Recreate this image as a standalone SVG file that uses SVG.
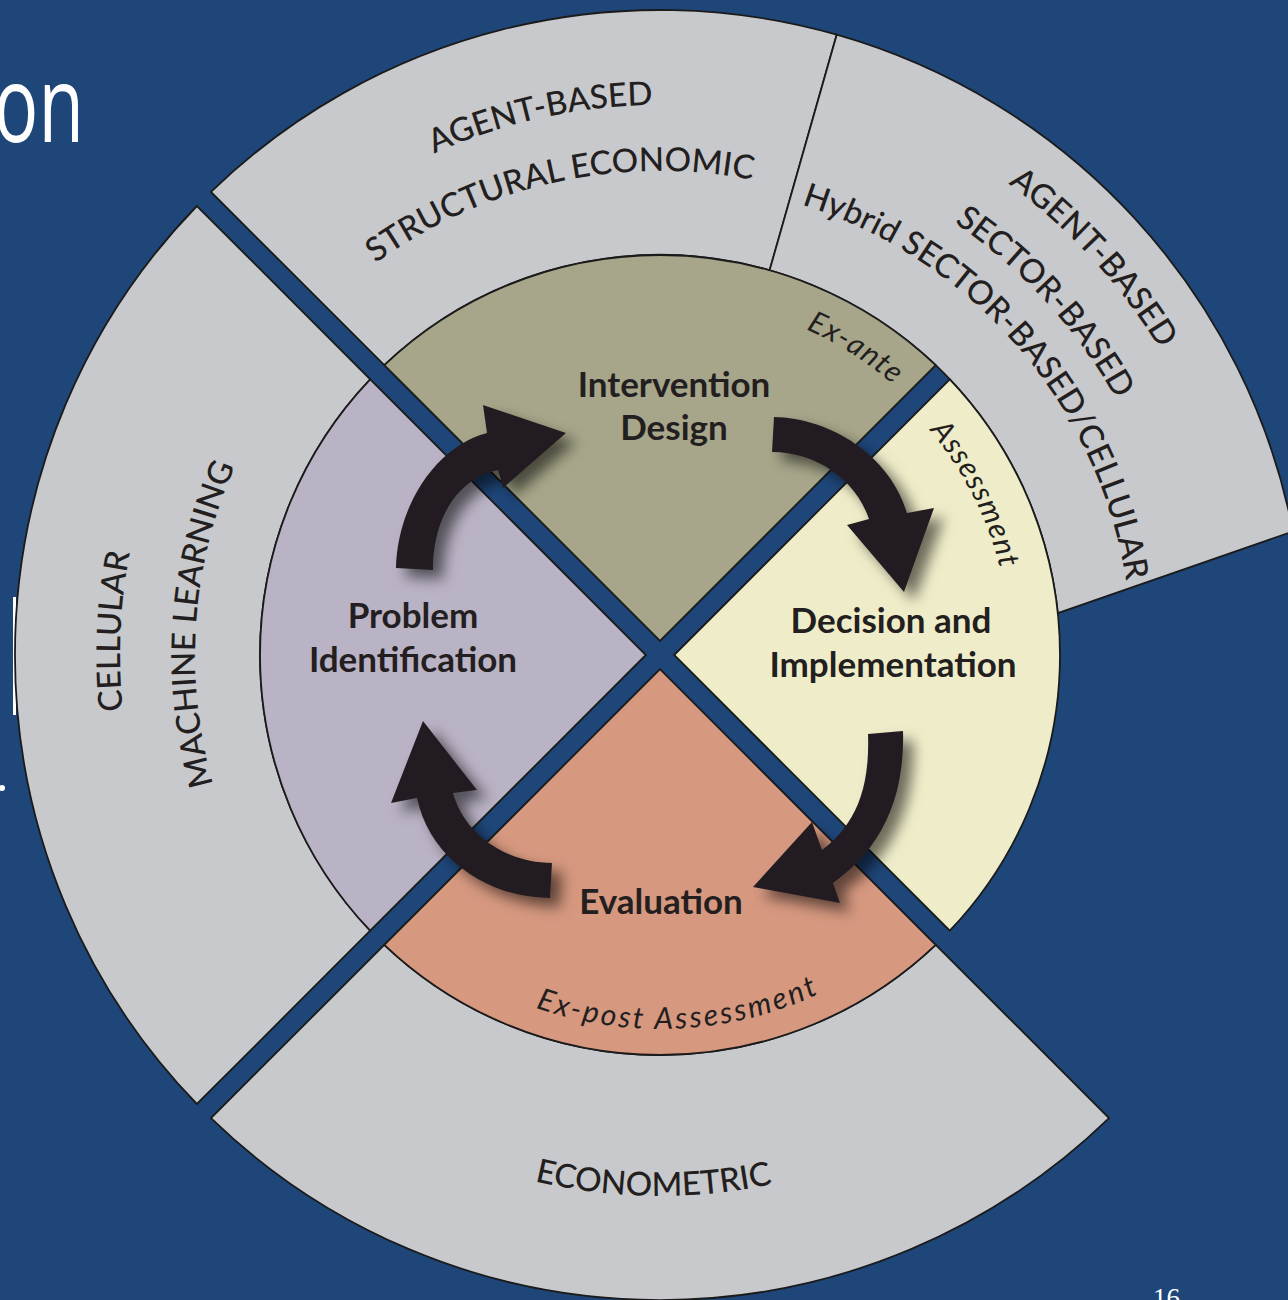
<svg xmlns="http://www.w3.org/2000/svg" xmlns:xlink="http://www.w3.org/1999/xlink" width="1288" height="1300" viewBox="0 0 1288 1300">
  <defs>
    <style>
      .ring { fill: #c8c9cc; stroke: #1b1b1b; stroke-width: 1.8; stroke-linejoin: miter; }
      .sector { stroke: #1b1b1b; stroke-width: 1.8; stroke-linejoin: miter; }
      .phase { font-family: Lato, "Open Sans", sans-serif; font-weight: 700; font-size: 35px; fill: #231f20; text-anchor: middle; }
      .band { font-family: Lato, "Open Sans", sans-serif; font-weight: 500; font-size: 33px; fill: #231f20; text-anchor: middle; }
      .note { font-family: Lato, "Open Sans", sans-serif; font-style: italic; font-size: 30px; letter-spacing: 1.2px; fill: #231f20; text-anchor: middle; }
      .note.wide { letter-spacing: 2.6px; }
      .arrow { fill: #231f20; filter: url(#arrowShadow); }
      .slide { fill: #ffffff; }
    </style>
    <filter id="arrowShadow" x="-40%" y="-40%" width="180%" height="180%">
      <feDropShadow dx="10" dy="9" stdDeviation="7" flood-color="#000000" flood-opacity="0.55"/>
    </filter>
    <!-- baselines for curved labels, centred on (660,655) -->
    <path id="arcAgentTop" d="M223.6,320.2 A550,550 0 0 1 913.9,167.1"/>
    <path id="arcStructural" d="M276.0,360.3 A484,484 0 0 1 883.5,225.7"/>
    <path id="arcAgentRight" d="M736.5,74.0 A586,586 0 0 1 1245.4,629.4"/>
    <path id="arcSector" d="M728.3,136.5 A523,523 0 0 1 1182.5,632.2"/>
    <path id="arcHybrid" d="M735.5,189.1 A472,472 0 0 1 1131.95,648.4"/>
    <path id="arcCellular" d="M231.6,983.8 A540,540 0 0 1 261.9,290.2"/>
    <path id="arcMachine" d="M284.3,929.0 A465,465 0 0 1 324.9,332.6"/>
    <path id="arcEconometric" d="M307.2,1065.1 A541,541 0 0 0 1002.6,1073.6"/>
    <path id="arcExPost" d="M434.9,953.7 A374,374 0 0 0 915.1,928.5"/>
    <path id="arcExAnte" d="M675.6,298.3 A357,357 0 0 1 976.7,490.2"/>
    <path id="arcAssessment" d="M851.2,360.6 A351,351 0 0 1 1010.5,673.4"/>
  </defs>

  <rect x="0" y="0" width="1288" height="1300" fill="#1e4679"/>

  <!-- slide furniture around the figure -->
  <g id="slide-text">
    <text class="slide" transform="scale(0.7,1)" x="120" y="142" text-anchor="end" font-family="'Open Sans', sans-serif" font-size="106">on</text>
    <rect class="slide" x="13" y="597" width="3" height="118"/>
    <circle class="slide" cx="2" cy="788" r="3"/>
    <text class="slide" x="1153" y="1307" font-family="'Liberation Serif', serif" font-size="27">16</text>
  </g>

  <!-- outer ring: model families -->
  <g id="outer-ring">
    <g id="segment-top">
      <path class="ring" d="M384.3,365.2 L211.0,191.9 A645,645 0 0 1 836.7,34.7 L769.6,270.3 A400,400 0 0 0 384.3,365.2 Z"/>
      <text class="band"><textPath href="#arcAgentTop" xlink:href="#arcAgentTop" startOffset="50%">AGENT-BASED</textPath></text>
      <text class="band"><textPath href="#arcStructural" xlink:href="#arcStructural" startOffset="50%">STRUCTURAL ECONOMIC</textPath></text>
    </g>
    <g id="segment-upper-right">
      <path class="ring" d="M769.6,270.3 L836.7,34.7 A645,645 0 0 1 1293.0,531.4 L1057.8,613.2 A400,400 0 0 0 769.6,270.3 Z"/>
      <text class="band"><textPath href="#arcAgentRight" xlink:href="#arcAgentRight" startOffset="50%">AGENT-BASED</textPath></text>
      <text class="band"><textPath href="#arcSector" xlink:href="#arcSector" startOffset="50%">SECTOR-BASED</textPath></text>
      <text class="band"><textPath href="#arcHybrid" xlink:href="#arcHybrid" startOffset="50%">Hybrid SECTOR-BASED/CELLULAR</textPath></text>
    </g>
    <g id="segment-bottom">
      <path class="ring" d="M935.7,944.8 L1109.0,1118.1 A645,645 0 0 1 211.0,1118.1 L384.3,944.8 A400,400 0 0 0 935.7,944.8 Z"/>
      <text class="band"><textPath href="#arcEconometric" xlink:href="#arcEconometric" startOffset="50%">ECONOMETRIC</textPath></text>
    </g>
    <g id="segment-left">
      <path class="ring" d="M370.2,930.7 L196.9,1104.0 A645,645 0 0 1 196.9,206.0 L370.2,379.3 A400,400 0 0 0 370.2,930.7 Z"/>
      <text class="band"><textPath href="#arcCellular" xlink:href="#arcCellular" startOffset="50%">CELLULAR</textPath></text>
      <text class="band"><textPath href="#arcMachine" xlink:href="#arcMachine" startOffset="50%">MACHINE LEARNING</textPath></text>
    </g>
  </g>

  <!-- inner cycle: four phases -->
  <g id="phases">
    <g id="intervention-design">
      <path class="sector" fill="#a7a68a" d="M660,640.86 L384.3,365.2 A400,400 0 0 1 935.7,365.2 Z"/>
      <text class="phase" x="674" y="397">Intervention</text>
      <text class="phase" x="674" y="440">Design</text>
      <text class="note"><textPath href="#arcExAnte" xlink:href="#arcExAnte" startOffset="50%">Ex-ante</textPath></text>
    </g>
    <g id="decision-implementation">
      <path class="sector" fill="#efedc9" d="M674.14,655 L949.8,379.3 A400,400 0 0 1 949.8,930.7 Z"/>
      <text class="phase" x="891" y="633">Decision and</text>
      <text class="phase" x="893" y="677">Implementation</text>
      <text class="note"><textPath href="#arcAssessment" xlink:href="#arcAssessment" startOffset="50%">Assessment</textPath></text>
    </g>
    <g id="evaluation">
      <path class="sector" fill="#d6987f" d="M660,669.14 L935.7,944.8 A400,400 0 0 1 384.3,944.8 Z"/>
      <text class="phase" x="661" y="914">Evaluation</text>
      <text class="note wide"><textPath href="#arcExPost" xlink:href="#arcExPost" startOffset="50%">Ex-post Assessment</textPath></text>
    </g>
    <g id="problem-identification">
      <path class="sector" fill="#bab2c5" d="M645.86,655 L370.2,930.7 A400,400 0 0 1 370.2,379.3 Z"/>
      <text class="phase" x="413" y="628">Problem</text>
      <text class="phase" x="413" y="672">Identification</text>
    </g>
  </g>

  <!-- cycle arrows between phases -->
  <g id="connectors">
    <path id="arrow-problem-to-design" class="arrow" d="M396,568 C398,500 440,445 487,433 L483,405 L566,433 L503,488 L498,470 C460,478 433,515 433,570 Z"/>
    <path id="arrow-design-to-decision" class="arrow" d="M774,417 C830,418 890,455 907,513 L934,508 L904,592 L847,525 L869,519 C855,478 815,452 772,452 Z"/>
    <path id="arrow-decision-to-evaluation" class="arrow" d="M903,731 C905,800 880,850 833,883 L840,903 L753,887 L812,822 L822,850 C855,825 870,790 868,734 Z"/>
    <path id="arrow-evaluation-to-problem" class="arrow" d="M552,863 C505,862 465,835 453,793 L477,790 L423,721 L391,803 L417,798 C430,860 490,898 550,898 Z"/>
  </g>
</svg>
